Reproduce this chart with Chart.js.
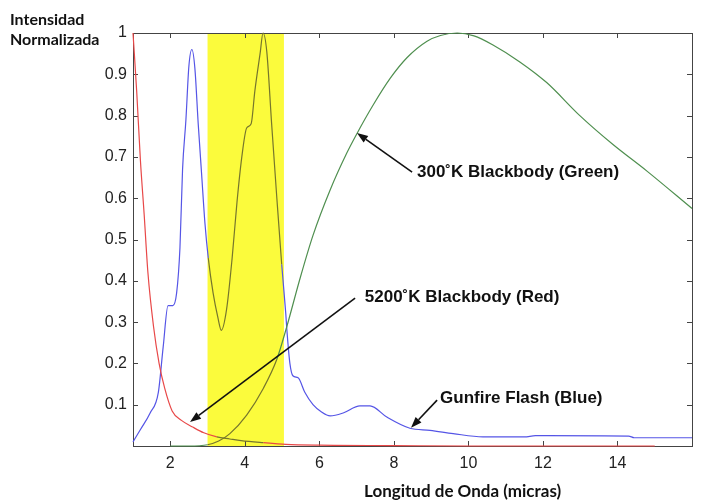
<!DOCTYPE html>
<html>
<head>
<meta charset="utf-8">
<script src="https://cdn.jsdelivr.net/npm/chart.js@4.4.1/dist/chart.umd.min.js"></script>
<style>
  html, body { margin: 0; padding: 0; background: #fff; }
</style>
</head>
<body>
<canvas id="grafico" width="712" height="502"></canvas>
<script>
// Datos
const xTicks = [2, 4, 6, 8, 10, 12, 14];
const yTicks = [0.1, 0.2, 0.3, 0.4, 0.5, 0.6, 0.7, 0.8, 0.9, 1];

// Gunfire Flash (azul)
const blueX = [1, 1.2, 1.46, 1.68, 1.81, 1.94, 2.07, 2.17, 2.26, 2.33, 2.42, 2.5, 2.58, 2.66, 2.75, 2.84, 2.93, 3.02,
  3.15, 3.28, 3.37, 3.51, 3.66, 3.79, 3.92, 4.05, 4.17, 4.27, 4.41, 4.49, 4.59, 4.72, 4.86, 4.99, 5.1, 5.13, 5.21,
  5.29, 5.43, 5.61, 5.83, 6.05, 6.29, 6.64, 7.09, 7.36, 7.81, 8.43, 8.97, 9.59, 10.39, 11.5, 11.8, 12.1, 14.3, 14.45, 16];
const blueY = [0.01, 0.04, 0.08, 0.13, 0.24, 0.34, 0.34, 0.37, 0.48, 0.67, 0.79, 0.92, 0.96, 0.915, 0.78, 0.66, 0.54, 0.455,
  0.37, 0.31, 0.28, 0.33, 0.455, 0.59, 0.70, 0.77, 0.78, 0.86, 0.95, 1.0, 0.955, 0.78, 0.60, 0.44, 0.32, 0.28, 0.20,
  0.17, 0.165, 0.13, 0.10, 0.083, 0.073, 0.08, 0.097, 0.097, 0.07, 0.043, 0.038, 0.03, 0.022, 0.022, 0.025, 0.025, 0.024, 0.02, 0.02];

// 5200 K (rojo)
const redX = [1, 1.1, 1.2, 1.3, 1.4, 1.55, 1.7, 1.85, 2.05, 2.3, 2.6, 2.9, 3.25, 3.6, 3.9, 4.5, 5.1, 6, 8, 10, 12, 15];
const redY = [1, 0.857, 0.69, 0.56, 0.42, 0.29, 0.2, 0.14, 0.085, 0.062, 0.046, 0.032, 0.022, 0.017, 0.013, 0.008, 0.004, 0.002, 0.001, 0, 0, 0];

// 300 K (verde)
const greenX = [2, 2.5, 3, 3.3, 3.6, 4.05, 4.5, 4.86, 5.13, 5.48, 5.83, 6.29, 6.74, 7.0, 7.44, 7.9, 8.35, 8.89, 9.25, 9.7,
  10.15, 10.66, 11.38, 12.1, 12.99, 13.88, 14.8, 16];
const greenY = [0, 0, 0.003, 0.012, 0.03, 0.075, 0.14, 0.21, 0.29, 0.405, 0.51, 0.62, 0.71, 0.755, 0.825, 0.89, 0.94, 0.98,
  0.994, 1.0, 0.993, 0.971, 0.93, 0.88, 0.8, 0.73, 0.665, 0.575];

// Banda amarilla (3-5 micras)
const bandaX = [3, 5.05];

const notas = [
  { texto: '300˚K Blackbody (Green)', tx: 8.62, ty: 0.663, x1: 8.49, y1: 0.663, x2: 7.01, y2: 0.758 },
  { texto: '5200˚K Blackbody (Red)', tx: 7.22, ty: 0.361, x1: 6.96, y1: 0.358, x2: 2.53, y2: 0.058 },
  { texto: 'Gunfire Flash (Blue)', tx: 9.24, ty: 0.116, x1: 9.16, y1: 0.111, x2: 8.46, y2: 0.044 }
];

const pares = (xs, ys) => xs.map((x, i) => ({ x: x, y: ys[i] }));
const enBanda = base => ctx =>
  (ctx.p0.parsed.x >= bandaX[0] && ctx.p1.parsed.x <= bandaX[1]) ? '#76762c' : base;

const fuenteTicks = { family: "'Liberation Sans', Arial, sans-serif", size: 16 };

const extras = {
  id: 'extras',
  beforeDatasetsDraw(chart) {
    const { ctx, chartArea: a, scales: { x, y } } = chart;
    ctx.save();
    // banda amarilla
    ctx.fillStyle = '#fbfb3c';
    const bx0 = x.getPixelForValue(bandaX[0]), bx1 = x.getPixelForValue(bandaX[1]);
    ctx.fillRect(bx0, a.top, bx1 - bx0, a.bottom - a.top + 1);
    // caja y marcas hacia dentro
    ctx.strokeStyle = '#444';
    ctx.lineWidth = 1;
    ctx.strokeRect(a.left + 0.5, a.top + 0.5, a.right - a.left, a.bottom - a.top);
    ctx.beginPath();
    xTicks.forEach(v => {
      const px = Math.round(x.getPixelForValue(v)) + 0.5;
      ctx.moveTo(px, a.bottom); ctx.lineTo(px, a.bottom - 5);
      ctx.moveTo(px, a.top); ctx.lineTo(px, a.top + 5);
    });
    yTicks.forEach(v => {
      const py = Math.round(y.getPixelForValue(v)) + 0.5;
      ctx.moveTo(a.left, py); ctx.lineTo(a.left + 5, py);
      ctx.moveTo(a.right, py); ctx.lineTo(a.right - 5, py);
    });
    ctx.stroke();
    ctx.restore();
  },
  afterDatasetsDraw(chart) {
    const { ctx, scales: { x, y } } = chart;
    ctx.save();
    ctx.strokeStyle = '#111';
    ctx.fillStyle = '#111';
    ctx.lineWidth = 1.6;
    notas.forEach(n => {
      const sx = x.getPixelForValue(n.x1), sy = y.getPixelForValue(n.y1);
      const ex = x.getPixelForValue(n.x2), ey = y.getPixelForValue(n.y2);
      const ang = Math.atan2(ey - sy, ex - sx);
      const L = 11, W = 4;
      const bxp = ex - L * Math.cos(ang), byp = ey - L * Math.sin(ang);
      ctx.beginPath();
      ctx.moveTo(sx, sy); ctx.lineTo(bxp, byp);
      ctx.stroke();
      ctx.beginPath();
      ctx.moveTo(ex, ey);
      ctx.lineTo(bxp + W * Math.sin(ang), byp - W * Math.cos(ang));
      ctx.lineTo(bxp - W * Math.sin(ang), byp + W * Math.cos(ang));
      ctx.closePath();
      ctx.fill();
      ctx.font = "bold 17px 'Liberation Sans', Arial, sans-serif";
      ctx.textBaseline = 'middle';
      ctx.textAlign = 'left';
      ctx.fillText(n.texto, x.getPixelForValue(n.tx), y.getPixelForValue(n.ty));
    });
    // títulos de ejes
    ctx.fillStyle = '#111';
    ctx.font = "bold 16px Lato, 'Open Sans', sans-serif";
    ctx.textBaseline = 'alphabetic';
    ctx.fillText('Intensidad', 10, 25);
    ctx.fillText('Normalizada', 10, 45);
    ctx.font = "bold 17px Lato, 'Open Sans', sans-serif";
    ctx.fillText('Longitud de Onda (micras)', 364, 497);
    ctx.restore();
  }
};

new Chart(document.getElementById('grafico'), {
  type: 'line',
  data: {
    datasets: [
      { data: pares(redX, redY), borderColor: '#e84848', segment: { borderColor: enBanda('#e84848') } },
      { data: pares(greenX, greenY), borderColor: '#4f8f4f', segment: { borderColor: enBanda('#4f8f4f') } },
      { data: pares(blueX, blueY), borderColor: '#5555e6', segment: { borderColor: enBanda('#5555e6') } }
    ]
  },
  options: {
    responsive: false,
    animation: false,
    devicePixelRatio: 1,
    layout: { padding: { top: 33, right: 20, left: 0, bottom: 0 } },
    plugins: { legend: { display: false }, tooltip: { enabled: false } },
    elements: {
      point: { radius: 0 },
      line: { borderWidth: 1.2, cubicInterpolationMode: 'monotone', fill: false }
    },
    datasets: { line: { clip: false } },
    scales: {
      x: {
        type: 'linear', min: 1, max: 16,
        grid: { display: false, drawTicks: false },
        border: { display: false },
        ticks: { font: fuenteTicks, color: '#222', padding: 8, maxRotation: 0 },
        afterBuildTicks: s => { s.ticks = xTicks.map(v => ({ value: v })); },
        afterFit: s => { s.height = 56; }
      },
      y: {
        type: 'linear', min: 0, max: 1,
        grid: { display: false, drawTicks: false },
        border: { display: false },
        ticks: {
          font: fuenteTicks, color: '#222', padding: 6,
          callback: v => (v === 1 ? '1' : v.toFixed(1))
        },
        afterBuildTicks: s => { s.ticks = yTicks.map(v => ({ value: v })); },
        afterFit: s => { s.width = 133; }
      }
    }
  },
  plugins: [extras]
});
</script>
</body>
</html>
